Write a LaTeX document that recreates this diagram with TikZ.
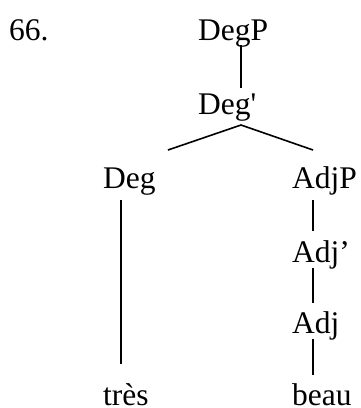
\documentclass[tikz,border=0pt]{standalone}
\usepackage{fontspec}
\setmainfont{Liberation Serif}[Ligatures=TeXOff]
\begin{document}
\begin{tikzpicture}[x=1pt,y=-1pt,
  lbl/.style={anchor=base west,inner sep=0pt,font=\fontsize{31.5}{36}\selectfont},
  branch/.style={line width=1.6pt}]
\useasboundingbox (0,0) rectangle (361,408);
\node[lbl] (num) at (9,40) {66.};
\node[lbl] (degp) at (198,40) {DegP};
\node[lbl] (degbar) at (198,114) {Deg'};
\node[lbl] (deg) at (103,188) {Deg};
\node[lbl] (adjp) at (292,188) {AdjP};
\node[lbl] (adjbar) at (292,262) {Adj’};
\node[lbl] (adj) at (292,333) {Adj};
\node[lbl] (tres) at (103,405) {très};
\node[lbl] (beau) at (292,405) {beau};
\coordinate (a1) at (241,45);
\coordinate (a2) at (241,88);
\coordinate (b0) at (241,125);
\coordinate (b1) at (168,150);
\coordinate (b2) at (313,150);
\coordinate (c1) at (121,200);
\coordinate (c2) at (121,364);
\coordinate (d1) at (313,200);
\coordinate (d2) at (313,231);
\coordinate (e1) at (313,268);
\coordinate (e2) at (313,303);
\coordinate (f1) at (313,339);
\coordinate (f2) at (313,375);
\draw[branch] (a1) -- (a2);
\draw[branch] (b1) -- (b0) -- (b2);
\draw[branch] (c1) -- (c2);
\draw[branch] (d1) -- (d2);
\draw[branch] (e1) -- (e2);
\draw[branch] (f1) -- (f2);
\end{tikzpicture}
\end{document}
